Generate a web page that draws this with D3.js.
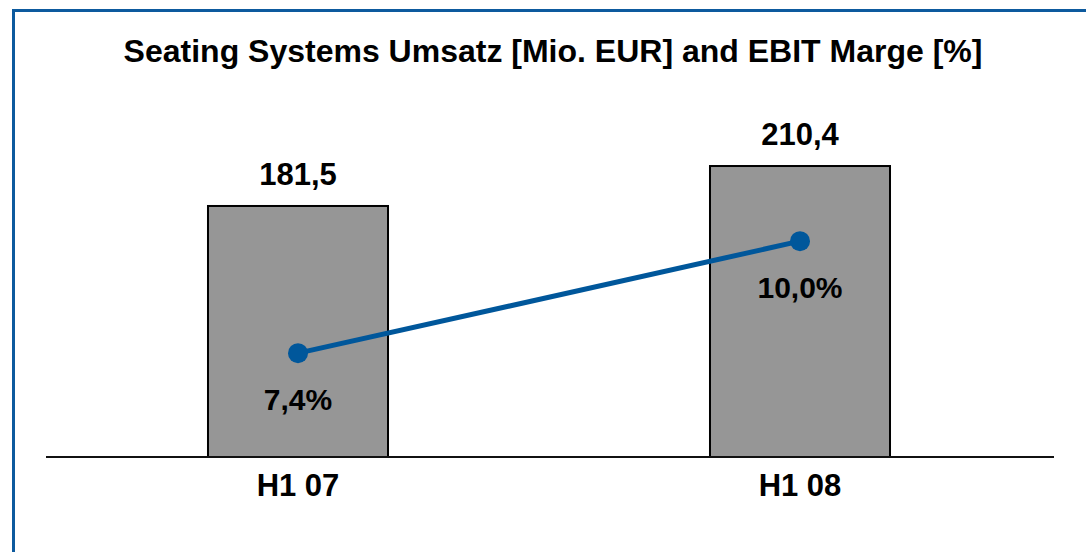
<!DOCTYPE html>
<html lang="de">
<head>
    <meta charset="UTF-8">
    <title>Seating Systems Umsatz und EBIT Marge</title>
    <script src="https://d3js.org/d3.v7.min.js"></script>
    <style>
        body { margin: 0; background: #fff; }
        text { font-family: "Liberation Sans", Arial, sans-serif; font-weight: bold; fill: #000; }
    </style>
</head>
<body>
    <svg width="1086" height="552"></svg>

    <script>
        const categories = ["H1 07", "H1 08"];
        const umsatz = [181.5, 210.4];
        const marge = [7.4, 10.0];
        const umsatzLabels = ["181,5", "210,4"];
        const margeLabels = ["7,4%", "10,0%"];

        const svg = d3.select("svg");
        const baseY = 457;

        // blue frame, right and bottom edges run off the picture
        svg.append("rect")
            .attr("x", 13.5).attr("y", 10.5)
            .attr("width", 1100).attr("height", 600)
            .attr("fill", "none")
            .attr("stroke", "#0d5a9e")
            .attr("stroke-width", 3);

        svg.append("text")
            .attr("x", 553).attr("y", 62)
            .attr("text-anchor", "middle")
            .style("font-size", "32px")
            .text("Seating Systems Umsatz [Mio. EUR] and EBIT Marge [%]");

        const x = d3.scaleBand()
            .domain(categories)
            .range([47, 1051])
            .paddingInner(0.6414)
            .paddingOuter(0.3207);

        const y = d3.scaleLinear().domain([0, 200]).range([baseY, 180.4]);
        const yPct = d3.scaleLinear().domain([0, 12]).range([672, 155]);

        svg.selectAll(".bar")
            .data(umsatz)
            .join("rect")
            .attr("class", "bar")
            .attr("x", (d, i) => x(categories[i]))
            .attr("y", d => y(d))
            .attr("width", x.bandwidth())
            .attr("height", d => baseY - y(d))
            .attr("fill", "#969696")
            .attr("stroke", "#000")
            .attr("stroke-width", 2);

        // category axis line
        svg.append("line")
            .attr("x1", 46).attr("x2", 1054)
            .attr("y1", baseY).attr("y2", baseY)
            .attr("stroke", "#111")
            .attr("stroke-width", 2);

        const cx = i => x(categories[i]) + x.bandwidth() / 2;

        svg.selectAll(".val")
            .data(umsatz)
            .join("text")
            .attr("class", "val")
            .attr("x", (d, i) => cx(i))
            .attr("y", d => y(d) - 21)
            .attr("text-anchor", "middle")
            .style("font-size", "31px")
            .text((d, i) => umsatzLabels[i]);

        svg.selectAll(".cat")
            .data(categories)
            .join("text")
            .attr("class", "cat")
            .attr("x", (d, i) => cx(i))
            .attr("y", 496)
            .attr("text-anchor", "middle")
            .style("font-size", "31px")
            .text(d => d);

        const line = d3.line()
            .x((d, i) => cx(i))
            .y(d => yPct(d));

        svg.append("path")
            .datum(marge)
            .attr("d", line)
            .attr("fill", "none")
            .attr("stroke", "#00579b")
            .attr("stroke-width", 5);

        svg.selectAll(".dot")
            .data(marge)
            .join("circle")
            .attr("class", "dot")
            .attr("cx", (d, i) => cx(i))
            .attr("cy", d => yPct(d))
            .attr("r", 10)
            .attr("fill", "#00579b");

        svg.selectAll(".pct")
            .data(marge)
            .join("text")
            .attr("class", "pct")
            .attr("x", (d, i) => cx(i))
            .attr("y", d => yPct(d) + 57)
            .attr("text-anchor", "middle")
            .style("font-size", "30px")
            .text((d, i) => margeLabels[i]);
    </script>
</body>
</html>
